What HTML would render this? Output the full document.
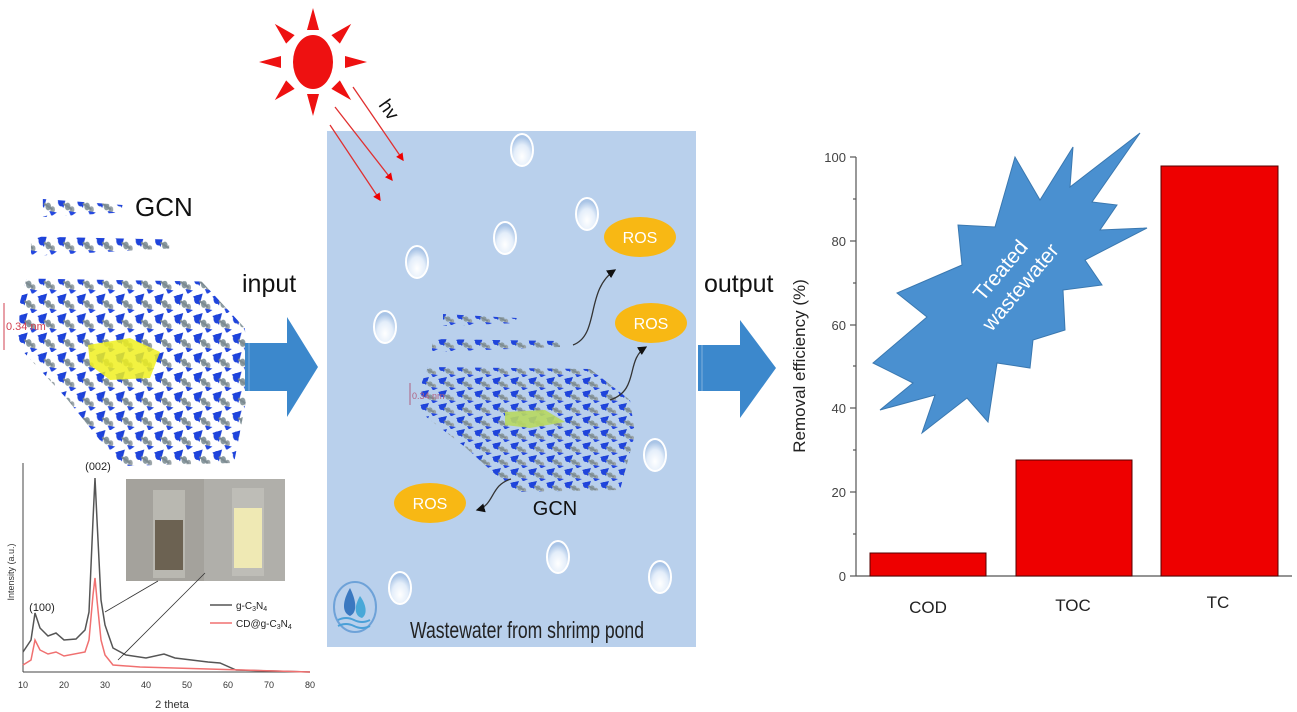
<!DOCTYPE html>
<html><head><meta charset="utf-8"><style>
html,body{margin:0;padding:0;background:#fff;}
svg{display:block;font-family:"Liberation Sans",sans-serif;}
</style></head><body>
<svg width="1297" height="712" viewBox="0 0 1297 712" xmlns="http://www.w3.org/2000/svg">
<defs>
<pattern id="mol" width="18" height="13" patternUnits="userSpaceOnUse">
<path d="M0,2 L9,0 L6,8 Z" fill="#1a3fd6"/>
<circle cx="4" cy="4" r="3" fill="#1f44dc"/>
<circle cx="10" cy="7" r="2.6" fill="#8a9aa0"/>
<circle cx="14" cy="9" r="2.2" fill="#9aa4a8"/>
<path d="M11,10 L18,11 L13,13.5 Z" fill="#2448e0"/>
<line x1="6" y1="5" x2="14" y2="9" stroke="#7c8a90" stroke-width="1.4"/>
</pattern>
<radialGradient id="bub" cx="50%" cy="70%" r="60%">
<stop offset="0" stop-color="#ffffff"/><stop offset="0.6" stop-color="#e4eefa"/><stop offset="1" stop-color="#a9c4e6"/>
</radialGradient>
<marker id="ra" markerWidth="6" markerHeight="6" refX="5" refY="3" orient="auto"><path d="M0,0 L6,3 L0,6 Z" fill="#e00"/></marker>
<marker id="ka" markerWidth="7" markerHeight="7" refX="6" refY="3.5" orient="auto"><path d="M0,0 L7,3.5 L0,7 Z" fill="#111"/></marker>
<g id="molecule">
<polygon points="23,2 97,6 97,11 23,14" fill="url(#mol)"/>
<polygon points="12,27 140,29 140,35 12,40" fill="url(#mol)"/>
<polygon points="8,55 170,57 210,88 215,122 200,178 95,180 45,135 0,100 2,70" fill="url(#mol)"/>
</g>
</defs>

<rect x="327" y="131" width="369" height="516" fill="#b9d0ec"/>

<g fill="#ee1111">
<ellipse cx="313" cy="62" rx="20" ry="27"/>
<g id="ray"><polygon points="307,30 319,30 313,8"/></g>
<use href="#ray" transform="rotate(45 313 62)"/>
<use href="#ray" transform="rotate(90 313 62)"/>
<use href="#ray" transform="rotate(135 313 62)"/>
<use href="#ray" transform="rotate(180 313 62)"/>
<use href="#ray" transform="rotate(225 313 62)"/>
<use href="#ray" transform="rotate(270 313 62)"/>
<use href="#ray" transform="rotate(315 313 62)"/>
</g>
<g stroke="#e03030" stroke-width="1.3" marker-end="url(#ra)">
<line x1="353" y1="87" x2="403" y2="160"/>
<line x1="335" y1="107" x2="392" y2="180"/>
<line x1="330" y1="125" x2="380" y2="200"/>
</g>
<text x="378" y="105" font-size="19" fill="#111" transform="rotate(55 378 105)">hv</text>

<g fill="url(#bub)" stroke="#ffffff" stroke-width="2">
<ellipse cx="522" cy="150" rx="11" ry="16"/>
<ellipse cx="587" cy="214" rx="11" ry="16"/>
<ellipse cx="505" cy="238" rx="11" ry="16"/>
<ellipse cx="417" cy="262" rx="11" ry="16"/>
<ellipse cx="385" cy="327" rx="11" ry="16"/>
<ellipse cx="655" cy="455" rx="11" ry="16"/>
<ellipse cx="558" cy="557" rx="11" ry="16"/>
<ellipse cx="660" cy="577" rx="11" ry="16"/>
<ellipse cx="400" cy="588" rx="11" ry="16"/>
</g>

<g transform="translate(420,312)"><use href="#molecule"/></g>
<polygon points="505,412 545,410 565,422 530,428 505,425" fill="#b8d860" opacity="0.9"/>
<line x1="410" y1="383" x2="410" y2="405" stroke="#b06080" stroke-width="1"/>
<text x="412" y="399" font-size="9" fill="#b06080">0.34 nm</text>

<g fill="#f8b814">
<ellipse cx="640" cy="237" rx="36" ry="20"/>
<ellipse cx="651" cy="323" rx="36" ry="20"/>
<ellipse cx="430" cy="503" rx="36" ry="20"/>
</g>
<g fill="#fff" font-size="16" text-anchor="middle">
<text x="640" y="243">ROS</text><text x="651" y="329">ROS</text><text x="430" y="509">ROS</text>
</g>
<g fill="none" stroke="#333" stroke-width="1.3" marker-end="url(#ka)">
<path d="M573,345 C600,335 585,290 615,270"/>
<path d="M610,400 C640,390 625,360 646,347"/>
<path d="M511,479 C490,485 495,505 477,510"/>
</g>
<text x="555" y="515" font-size="20" fill="#111" text-anchor="middle">GCN</text>

<ellipse cx="355" cy="607" rx="21" ry="25" fill="none" stroke="#6ea2d8" stroke-width="2"/>
<path d="M350,588 C343,600 341,612 350,616 C358,612 356,600 350,588Z" fill="#3a78c0"/>
<path d="M360,596 C354,606 354,616 362,618 C368,614 366,604 360,596Z" fill="#48a8d8"/>
<path d="M338,620 q8,-4 16,0 t16,0 M338,626 q8,-4 16,0 t16,0" stroke="#4aa0d8" stroke-width="2" fill="none"/>
<text x="410" y="638" font-size="23" fill="#222" textLength="234" lengthAdjust="spacingAndGlyphs">Wastewater from shrimp pond</text>

<g transform="translate(18,196) scale(1.08,1.5)"><use href="#molecule"/></g>
<polygon points="88,345 130,338 160,352 150,378 110,380 90,365" fill="#f0f020" opacity="0.85"/>
<line x1="4" y1="303" x2="4" y2="350" stroke="#d04050" stroke-width="1"/>
<text x="6" y="330" font-size="11" fill="#d04050">0.34 nm</text>
<text x="135" y="216" font-size="26" fill="#111">GCN</text>

<text x="242" y="292" font-size="25" fill="#111">input</text>
<polygon points="245,343 287,343 287,317 318,367 287,417 287,391 245,391" fill="#3c88cc"/>
<line x1="249" y1="343" x2="249" y2="391" stroke="#7fb0dd" stroke-width="1"/>
<text x="704" y="292" font-size="25" fill="#111">output</text>
<polygon points="698,345 740,345 740,320 776,368 740,418 740,391 698,391" fill="#3c88cc"/>
<line x1="702" y1="345" x2="702" y2="391" stroke="#7fb0dd" stroke-width="1"/>

<g stroke="#444" stroke-width="1" fill="none">
<line x1="23" y1="463" x2="23" y2="672"/>
<line x1="23" y1="672" x2="310" y2="672"/>
</g>
<g font-size="9" fill="#333" text-anchor="middle">
<text x="23" y="688">10</text><text x="64" y="688">20</text><text x="105" y="688">30</text><text x="146" y="688">40</text>
<text x="187" y="688">50</text><text x="228" y="688">60</text><text x="269" y="688">70</text><text x="310" y="688">80</text>
<text x="172" y="708" font-size="11">2 theta</text>
</g>
<text x="14" y="572" font-size="9" fill="#333" text-anchor="middle" transform="rotate(-90 14 572)">Intensity (a.u.)</text>
<polyline fill="none" stroke="#555" stroke-width="1.5" points="23,652 31,640 35,613 40,628 48,636 56,633 64,640 76,639 85,630 89,612 93,520 95,478 97,520 101,600 105,625 113,648 126,655 146,658 164,654 175,658 208,662 220,663 236,670 310,672"/>
<polyline fill="none" stroke="#f07070" stroke-width="1.5" points="23,665 31,660 35,640 40,650 48,654 56,652 64,656 85,652 89,640 93,595 95,578 97,600 101,640 105,655 113,665 140,667 310,672"/>
<text x="98" y="470" font-size="11" fill="#222" text-anchor="middle">(002)</text>
<text x="42" y="611" font-size="11" fill="#222" text-anchor="middle">(100)</text>
<rect x="126" y="479" width="159" height="102" fill="#b0afaa"/>
<rect x="126" y="479" width="78" height="102" fill="#a4a29c"/>
<rect x="153" y="490" width="32" height="88" fill="#c8c6c0" opacity="0.6"/>
<rect x="155" y="520" width="28" height="50" fill="#6c6252"/>
<rect x="232" y="488" width="32" height="88" fill="#c8c6c0" opacity="0.6"/>
<rect x="234" y="508" width="28" height="60" fill="#efe9b4"/>
<g stroke="#333" stroke-width="0.8">
<line x1="158" y1="581" x2="105" y2="612"/>
<line x1="205" y1="573" x2="118" y2="660"/>
</g>
<line x1="210" y1="605" x2="232" y2="605" stroke="#555" stroke-width="1.5"/>
<text x="236" y="609" font-size="10" fill="#222">g-C<tspan font-size="7" dy="2">3</tspan><tspan dy="-2">N</tspan><tspan font-size="7" dy="2">4</tspan></text>
<line x1="210" y1="623" x2="232" y2="623" stroke="#f07070" stroke-width="1.5"/>
<text x="236" y="627" font-size="10" fill="#222">CD@g-C<tspan font-size="7" dy="2">3</tspan><tspan dy="-2">N</tspan><tspan font-size="7" dy="2">4</tspan></text>

<g stroke="#555" stroke-width="1.2">
<line x1="856" y1="157" x2="856" y2="576"/>
<line x1="856" y1="576" x2="1292" y2="576"/>
<line x1="850" y1="157" x2="856" y2="157"/><line x1="850" y1="241" x2="856" y2="241"/>
<line x1="850" y1="325" x2="856" y2="325"/><line x1="850" y1="408" x2="856" y2="408"/>
<line x1="850" y1="492" x2="856" y2="492"/><line x1="850" y1="576" x2="856" y2="576"/>
<line x1="853" y1="199" x2="856" y2="199"/><line x1="853" y1="283" x2="856" y2="283"/>
<line x1="853" y1="366" x2="856" y2="366"/><line x1="853" y1="450" x2="856" y2="450"/>
<line x1="853" y1="534" x2="856" y2="534"/>
</g>
<g font-size="13" fill="#444" text-anchor="end">
<text x="846" y="162">100</text><text x="846" y="246">80</text><text x="846" y="330">60</text>
<text x="846" y="413">40</text><text x="846" y="497">20</text><text x="846" y="581">0</text>
</g>
<text x="805" y="366" font-size="17" fill="#222" text-anchor="middle" transform="rotate(-90 805 366)">Removal efficiency (%)</text>
<g fill="#ee0000" stroke="#550000" stroke-width="1">
<rect x="870" y="553" width="116" height="23"/>
<rect x="1016" y="460" width="116" height="116"/>
<rect x="1161" y="166" width="117" height="410"/>
</g>
<g font-size="17" fill="#222" text-anchor="middle">
<text x="928" y="613">COD</text><text x="1073" y="611">TOC</text><text x="1218" y="608">TC</text>
</g>
<polygon points="1140,133 1092,202 1117,205 1100,230 1147,228 1085,260 1102,285 1063,290 1065,330 1033,340 1030,368 997,363 988,422 967,398 922,433 935,395 880,410 913,383 873,363 927,317 897,293 962,265 958,225 995,227 1015,157 1040,200 1073,147 1070,187" fill="#4a90d0" stroke="#3a78b0" stroke-width="1"/>
<g transform="translate(1012,280) rotate(-50)" fill="#fff" font-size="21" text-anchor="middle">
<text x="0" y="-8">Treated</text><text x="0" y="18">wastewater</text>
</g>
</svg>
</body></html>
